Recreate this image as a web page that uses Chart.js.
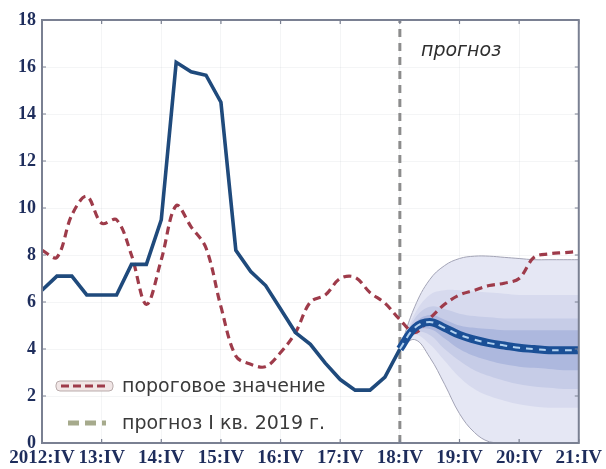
<!DOCTYPE html>
<html>
<head>
<meta charset="utf-8">
<script src="https://cdn.jsdelivr.net/npm/chart.js@4.4.1/dist/chart.umd.min.js"></script>
<style>
  body { margin: 0; background: #fff; }
  canvas { display: block; }
</style>
</head>
<body>
<canvas id="fan-chart" width="606" height="469"></canvas>
<script>
// x axis: quarter index, 0 = 2012:IV ... 36 = 21:IV
var xTickLabels = ['2012:IV', '13:IV', '14:IV', '15:IV', '16:IV', '17:IV', '18:IV', '19:IV', '20:IV', '21:IV'];
var yTicks = [0, 2, 4, 6, 8, 10, 12, 14, 16, 18];
var forecastStart = 24; // 18:IV

// observed series (solid blue), quarters 0..24
var histQuarters = [0, 1, 2, 3, 4, 5, 6, 7, 8, 9, 10, 11, 12, 13, 14, 15, 16, 17, 18, 19, 20, 21, 22, 23, 24];
var histValues = [6.5, 7.1, 7.1, 6.3, 6.3, 6.3, 7.6, 7.6, 9.5, 16.2, 15.8, 15.65, 14.5, 8.2, 7.3, 6.7, 5.7, 4.7, 4.2, 3.4, 2.7, 2.25, 2.25, 2.8, 4.0];

// threshold (red dashed), quarters 0..36
var thresholdQuarters = [0, 1, 2, 3, 4, 5, 6, 7, 8, 9, 10, 11, 12, 13, 14, 15, 16, 17, 18, 19, 20, 21, 22, 23, 24, 25, 26, 27, 28, 29, 30, 31, 32, 33, 34, 35, 36];
var thresholdValues = [8.2, 7.9, 9.7, 10.5, 9.35, 9.5, 8.0, 5.9, 7.8, 10.1, 9.2, 8.3, 5.8, 3.7, 3.35, 3.25, 3.85, 4.7, 6.0, 6.3, 7.0, 7.05, 6.4, 5.95, 5.25, 4.7, 5.3, 5.9, 6.3, 6.5, 6.7, 6.8, 7.0, 7.9, 8.05, 8.1, 8.15];

// forecast fan, quarters 24..36
var fanQuarters = [24, 25, 26, 27, 28, 29, 30, 31, 32, 33, 34, 35, 36];
var fanMedian = [4.0, 4.9, 5.15, 4.9, 4.6, 4.4, 4.25, 4.15, 4.05, 4.0, 3.95, 3.95, 3.95];
var fanOuterHi = [4.0, 5.8, 6.95, 7.55, 7.85, 7.95, 7.95, 7.9, 7.85, 7.8, 7.8, 7.8, 7.8];
var fanOuterLo = [4.0, 4.4, 3.65, 2.5, 1.25, 0.45, 0.05, 0, 0, 0, 0, 0, 0];
var fanBand2Hi = [4.0, 5.5, 6.3, 6.5, 6.5, 6.45, 6.4, 6.35, 6.3, 6.3, 6.3, 6.3, 6.3];
var fanBand2Lo = [4.0, 4.6, 4.2, 3.5, 2.8, 2.3, 2.0, 1.8, 1.65, 1.55, 1.5, 1.5, 1.5];
var fanBand3Hi = [4.0, 5.3, 5.8, 5.7, 5.5, 5.4, 5.35, 5.3, 5.3, 5.3, 5.3, 5.3, 5.3];
var fanBand3Lo = [4.0, 4.7, 4.6, 4.0, 3.5, 3.1, 2.85, 2.65, 2.5, 2.4, 2.35, 2.3, 2.3];
var fanBand4Hi = [4.0, 5.1, 5.45, 5.25, 5.0, 4.9, 4.85, 4.8, 4.8, 4.8, 4.8, 4.8, 4.8];
var fanBand4Lo = [4.0, 4.75, 4.85, 4.45, 4.0, 3.7, 3.5, 3.35, 3.25, 3.2, 3.15, 3.1, 3.1];

var legendLabels = ['пороговое значение', 'прогноз I кв. 2019 г.'];
var forecastLabel = 'прогноз';

var toPoints = (xs, ys) => xs.map((x, i) => ({ x: x, y: ys[i] }));

var bandSet = (values, fill, bg, border, order) => ({
  data: toPoints(fanQuarters, values),
  borderColor: border,
  borderWidth: border === 'transparent' ? 0 : 1,
  backgroundColor: bg,
  fill: fill,
  tension: 0.4,
  pointRadius: 0,
  order: order
});

var datasets = [
  bandSet(fanOuterHi, '+1', '#e5e7f4', '#a3a4b6', 20),
  bandSet(fanOuterLo, false, 'transparent', '#a3a4b6', 19),
  bandSet(fanBand2Hi, '+1', '#d7daee', 'transparent', 18),
  bandSet(fanBand2Lo, false, 'transparent', 'transparent', 17),
  bandSet(fanBand3Hi, '+1', '#c6cce7', 'transparent', 16),
  bandSet(fanBand3Lo, false, 'transparent', 'transparent', 15),
  bandSet(fanBand4Hi, '+1', '#adb8de', 'transparent', 14),
  bandSet(fanBand4Lo, false, 'transparent', 'transparent', 13),
  {
    // vertical line at the start of the forecast
    data: [{ x: forecastStart, y: yTicks[0] }, { x: forecastStart, y: yTicks[yTicks.length - 1] }],
    borderColor: '#8c8c8c',
    borderWidth: 3,
    borderDash: [8, 6],
    pointRadius: 0,
    fill: false,
    order: 12
  },
  {
    data: toPoints(thresholdQuarters, thresholdValues),
    borderColor: '#9e3b4a',
    borderWidth: 3.2,
    borderDash: [8, 5],
    tension: 0.35,
    pointRadius: 0,
    fill: false,
    order: 3
  },
  {
    data: toPoints(histQuarters, histValues),
    borderColor: '#1f4a7c',
    borderWidth: 3.6,
    tension: 0,
    pointRadius: 0,
    fill: false,
    order: 2
  },
  {
    data: toPoints(fanQuarters, fanMedian),
    borderColor: '#1a4f96',
    borderWidth: 8,
    tension: 0.4,
    pointRadius: 0,
    fill: false,
    order: 1
  },
  {
    data: toPoints(fanQuarters, fanMedian),
    borderColor: '#b3d2f0',
    borderWidth: 2,
    borderDash: [7, 6],
    tension: 0.4,
    pointRadius: 0,
    fill: false,
    order: 0
  }
];

// frame, inward ticks, legend and the "прогноз" note
var decorPlugin = {
  id: 'decor',
  afterDatasetsDraw(chart) {
    var ctx = chart.ctx;
    var a = chart.chartArea;
    var xs = chart.scales.x, ys = chart.scales.y;
    ctx.save();

    ctx.strokeStyle = '#7a8092';
    ctx.lineWidth = 2;
    ctx.strokeRect(a.left, a.top, a.right - a.left, a.bottom - a.top);

    ctx.lineWidth = 1.2;
    ctx.beginPath();
    xs.ticks.forEach(t => {
      var px = xs.getPixelForValue(t.value);
      ctx.moveTo(px, a.bottom); ctx.lineTo(px, a.bottom - 4);
      ctx.moveTo(px, a.top); ctx.lineTo(px, a.top + 4);
    });
    ys.ticks.forEach(t => {
      var py = ys.getPixelForValue(t.value);
      ctx.moveTo(a.left, py); ctx.lineTo(a.left + 4, py);
      ctx.moveTo(a.right, py); ctx.lineTo(a.right - 4, py);
    });
    ctx.stroke();

    // legend
    ctx.fillStyle = '#f1e6e6';
    ctx.strokeStyle = '#b9abab';
    ctx.lineWidth = 1;
    ctx.beginPath();
    ctx.roundRect(56, 381, 57, 10, 4);
    ctx.fill();
    ctx.stroke();
    ctx.strokeStyle = '#9e3b4a';
    ctx.lineWidth = 3;
    ctx.setLineDash([8, 4]);
    ctx.beginPath();
    ctx.moveTo(61, 386); ctx.lineTo(109, 386);
    ctx.stroke();

    ctx.strokeStyle = '#a6aa8c';
    ctx.lineWidth = 5;
    ctx.setLineDash([11, 6]);
    ctx.beginPath();
    ctx.moveTo(68, 423); ctx.lineTo(106, 423);
    ctx.stroke();
    ctx.setLineDash([]);

    ctx.fillStyle = '#3a3a3a';
    ctx.font = '19px "DejaVu Sans", sans-serif';
    ctx.textBaseline = 'middle';
    ctx.textAlign = 'left';
    ctx.fillText(legendLabels[0], 122, 387);
    ctx.fillText(legendLabels[1], 122, 424);

    ctx.font = 'italic 19px "DejaVu Sans", sans-serif';
    ctx.fillStyle = '#2e2e2e';
    ctx.fillText(forecastLabel, 421, 51);

    ctx.restore();
  }
};

var config = {
  type: 'line',
  data: { datasets: datasets },
  options: {
    responsive: false,
    animation: false,
    layout: { padding: { top: 20, right: 26, bottom: 0, left: 0 } },
    plugins: {
      legend: { display: false },
      tooltip: { enabled: false }
    },
    scales: {
      x: {
        type: 'linear',
        min: 0,
        max: 36,
        afterFit: s => { s.height = 26; },
        afterBuildTicks: s => { s.ticks = xTickLabels.map((l, i) => ({ value: i * 4 })); },
        ticks: {
          callback: (v) => xTickLabels[Math.round(v / 4)],
          font: { family: '"Liberation Serif", serif', size: 19, weight: 'bold' },
          color: '#1e2d5c',
          padding: 4,
          maxRotation: 0,
          autoSkip: false
        },
        grid: { color: 'rgba(120,125,145,0.08)', drawTicks: false },
        border: { display: false }
      },
      y: {
        min: 0,
        max: 18,
        afterFit: s => { s.width = 42; },
        afterBuildTicks: s => { s.ticks = yTicks.map(v => ({ value: v })); },
        ticks: {
          font: { family: '"Liberation Serif", serif', size: 18, weight: 'bold' },
          color: '#1e2d5c',
          padding: 6
        },
        grid: { color: 'rgba(120,125,145,0.08)', drawTicks: false },
        border: { display: false }
      }
    }
  },
  plugins: [decorPlugin]
};

var fanChart = new Chart(document.getElementById('fan-chart').getContext('2d'), config);
</script>
</body>
</html>
